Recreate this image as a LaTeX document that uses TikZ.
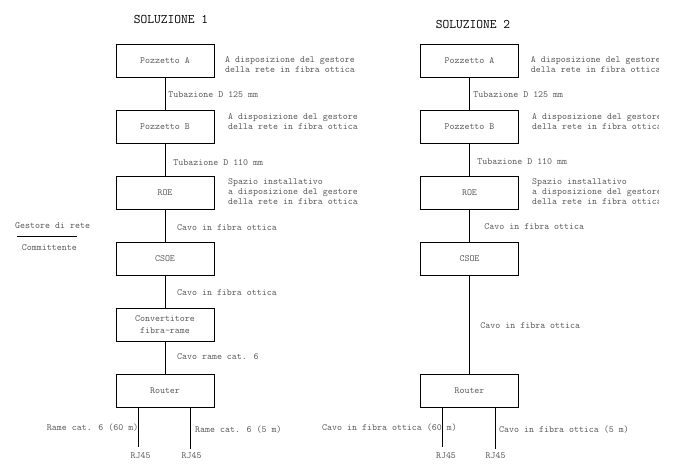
\documentclass[tikz,border=0pt]{standalone}
\usepackage{fontspec}
\usetikzlibrary{positioning}

\begin{document}
\begin{tikzpicture}[
    x=1pt, y=-1pt,
    node distance=66pt,
    on grid,
    every node/.style={font=\ttfamily\fontsize{9.5}{10}\selectfont, text=black!65},
    box/.style={draw=black, line width=0.8pt, minimum width=98pt, minimum height=33pt, inner sep=0pt},
    note/.style={anchor=north west, align=left, inner sep=0pt},
    lbl/.style={anchor=west, inner sep=0pt, text height=5.8pt, text depth=0pt},
    title/.style={font=\ttfamily\fontsize{13.1}{14}\selectfont, text=black},
    wire/.style={line width=0.8pt},
    every edge/.append style={line width=0.8pt}
]
   \useasboundingbox (0,0) rectangle (673,474);
   \begin{scope}
   \clip (0,0) rectangle (658,474);

   % Titles
   \node[title] (t1) at (171,19) {SOLUZIONE 1};
   \node[title] (t2) at (473,24) {SOLUZIONE 2};

   % Soluzione 1
   \node[box] (pA1) at (165,60.5) {Pozzetto A};
   \node[box] (pB1) [below=of pA1] {Pozzetto B};
   \node[box] (roe1) [below=of pB1] {ROE};
   \node[box] (csoe1) [below=of roe1] {CSOE};
   \node[box, align=center] (conv1) [below=of csoe1] {Convertitore\\[1.3pt]fibra-rame};
   \node[box] (r1) [below=of conv1] {Router};

   % Soluzione 2
   \node[box] (pA2) at (469.5,60.5) {Pozzetto A};
   \node[box] (pB2) [below=of pA2] {Pozzetto B};
   \node[box] (roe2) [below=of pB2] {ROE};
   \node[box] (csoe2) [below=of roe2] {CSOE};
   \node[box] (r2) [below=132pt of csoe2] {Router};

   % Notes
   \node[note] (nA1) at (225,56.1) {A disposizione del gestore\\della rete in fibra ottica};
   \node[note] (nB1) at (228,113.4) {A disposizione del gestore\\della rete in fibra ottica};
   \node[note] (nR1) at (228,178.1) {Spazio installativo\\a disposizione del gestore\\della rete in fibra ottica};
   \node[note] (nA2) at (530.7,56.1) {A disposizione del gestore\\della rete in fibra ottica};
   \node[note] (nB2) at (532,113.4) {A disposizione del gestore\\della rete in fibra ottica};
   \node[note] (nR2) at (532,178.1) {Spazio installativo\\a disposizione del gestore\\della rete in fibra ottica};

   % Gestore / committente
   \node[lbl] (gest) at (15,225.7) {Gestore di rete};
   \node[lbl] (comm) at (21.7,247.3) {Committente};
   \coordinate (sepL) at (16.7,236.7);
   \coordinate (sepR) at (76.7,236.7);
   \draw[wire] (sepL) -- (sepR);

   % Links
   \path
   (pA1) edge node[lbl, xshift=3pt, yshift=-0.8pt] {Tubazione D 125 mm} (pB1)
   (pB1) edge node[lbl, xshift=8pt, yshift=-2.8pt] {Tubazione D 110 mm} (roe1)
   (roe1) edge node[lbl, xshift=11.7pt, yshift=-2.2pt] {Cavo in fibra ottica} (csoe1)
   (csoe1) edge node[lbl, xshift=11.7pt, yshift=-1.2pt] {Cavo in fibra ottica} (conv1)
   (conv1) edge node[lbl, xshift=11.7pt, yshift=0.5pt] {Cavo rame cat. 6} (r1);

   \path
   (pA2) edge node[lbl, xshift=3.5pt, yshift=-1.2pt] {Tubazione D 125 mm} (pB2)
   (pB2) edge node[lbl, xshift=7.5pt, yshift=-2.5pt] {Tubazione D 110 mm} (roe2)
   (roe2) edge node[lbl, xshift=14.5pt, yshift=-1.5pt] {Cavo in fibra ottica} (csoe2)
   (csoe2) edge node[lbl, xshift=10.5pt, yshift=-1.2pt] {Cavo in fibra ottica} (r2);

   % Router outputs
   \coordinate (e11) at (138,447);
   \coordinate (e12) at (190,449);
   \coordinate (e21) at (442.7,447);
   \coordinate (e22) at (495,449);
   \draw[wire] (r1.south -| e11) -- (e11);
   \draw[wire] (r1.south -| e12) -- (e12);
   \draw[wire] (r2.south -| e21) -- (e21);
   \draw[wire] (r2.south -| e22) -- (e22);

   \node[lbl, anchor=east] (k11) at (138.5,428) {Rame cat. 6 (60 m)};
   \node[lbl] (k12) at (195,430) {Rame cat. 6 (5 m)};
   \node[lbl] (k21) at (322,428) {Cavo in fibra ottica (60 m)};
   \node[lbl] (k22) at (499,430) {Cavo in fibra ottica (5 m)};

   \node (j11) at (140.7,456) {RJ45};
   \node (j12) at (191.7,456) {RJ45};
   \node (j21) at (446,456) {RJ45};
   \node (j22) at (495.7,456) {RJ45};
   \end{scope}

\end{tikzpicture}
\end{document}
